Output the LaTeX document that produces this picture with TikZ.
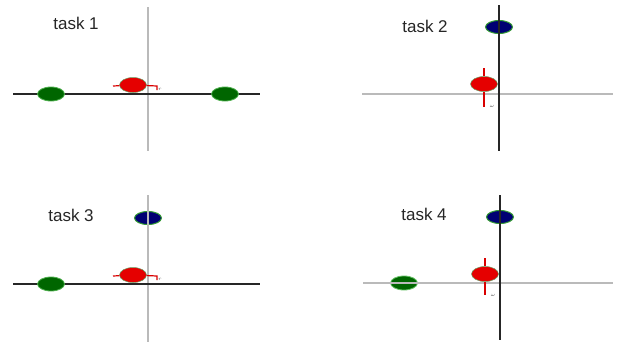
\documentclass[tikz,border=0pt]{standalone}
\usepackage{fontspec}
\setmainfont{Liberation Sans}
\usetikzlibrary{shapes.geometric}
\begin{document}
\begin{tikzpicture}[x=1pt,y=-1pt,
  grayax/.style={draw=black!27,line width=1.4pt},
  blackax/.style={draw=black!85,line width=1.6pt},
  greenblob/.style={ellipse,minimum width=27pt,minimum height=14pt,inner sep=0pt,fill=green!40!black,draw=green!55!black!70,line width=0.8pt},
  redblob/.style={ellipse,minimum width=27pt,minimum height=15pt,inner sep=0pt,fill=red!90!black,draw=green!40!black!60,line width=0.5pt},
  blueblob/.style={ellipse,minimum width=27pt,minimum height=13pt,inner sep=0pt,fill=blue!45!black,draw=green!50!black!80,line width=1pt},
  redbar/.style={draw=red!85!black,line width=1.2pt},
  tasklabel/.style={font=\fontsize{17}{19}\selectfont,text=black!85},
  tiny/.style={font=\fontsize{5}{5}\selectfont,text=black!75,inner sep=0pt}]
\useasboundingbox (0,0) rectangle (617,343);
% ---------- task 1 ----------
\node[tasklabel] (t1) at (76,23) {task 1};
\coordinate (a1t) at (148,7); \coordinate (a1b) at (148,151);
\coordinate (h1l) at (13,94); \coordinate (h1r) at (260,94);
\draw[grayax] (a1t) -- (a1b);
\draw[blackax] (h1l) -- (h1r);
\node[greenblob] (g1a) at (51,94) {};
\node[greenblob] (g1b) at (225,94) {};
\coordinate (r1l) at (113,86); \coordinate (r1r) at (157,86); \coordinate (r1d) at (157,90);
\node[redblob] (r1) at (133,85) {};
\draw[redbar] (r1l) -- (r1) (r1) -- (r1r) -- (r1d);
\node[tiny] (l1) at (160,89) {$r$};
% ---------- task 2 ----------
\node[tasklabel] (t2) at (425,26) {task 2};
\coordinate (a2t) at (499,5); \coordinate (a2b) at (499,151);
\coordinate (h2l) at (362,94); \coordinate (h2r) at (613,94);
\draw[grayax] (h2l) -- (h2r);
\node[blueblob] (b2) at (499,27) {};
\coordinate (r2t) at (484,68); \coordinate (r2b) at (484,107);
\node[redblob] (r2) at (484,84) {};
\draw[redbar] (r2t) -- (r2) (r2) -- (r2b);
\draw[blackax] (a2t) -- (a2b);
\node[tiny] (l2) at (492,106) {$\omega$};
% ---------- task 3 ----------
\node[tasklabel] (t3) at (71,215) {task 3};
\coordinate (a3t) at (148,195); \coordinate (a3b) at (148,342);
\coordinate (h3l) at (13,284); \coordinate (h3r) at (260,284);
\draw[grayax] (a3t) -- (a3b);
\draw[blackax] (h3l) -- (h3r);
\node[greenblob] (g3) at (51,284) {};
\node[blueblob] (b3) at (148,218) {};
\draw[grayax] (b3.north) -- (b3.south);
\coordinate (r3l) at (113,276); \coordinate (r3r) at (157,276); \coordinate (r3d) at (157,280);
\node[redblob] (r3) at (133,275) {};
\draw[redbar] (r3l) -- (r3) (r3) -- (r3r) -- (r3d);
\node[tiny] (l3) at (160,279) {$r$};
% ---------- task 4 ----------
\node[tasklabel] (t4) at (424,214) {task 4};
\coordinate (a4t) at (500,195); \coordinate (a4b) at (500,340);
\coordinate (h4l) at (363,283); \coordinate (h4r) at (613,283);
\node[greenblob,draw=green!60!black!60] (g4) at (404,283) {};
\draw[grayax] (h4l) -- (h4r);
\node[blueblob] (b4) at (500,217) {};
\coordinate (r4t) at (485,258); \coordinate (r4b) at (485,295);
\node[redblob] (r4) at (485,274) {};
\draw[redbar] (r4t) -- (r4) (r4) -- (r4b);
\draw[blackax] (a4t) -- (a4b);
\node[tiny] (l4) at (493,295) {$\omega$};
\end{tikzpicture}
\end{document}
